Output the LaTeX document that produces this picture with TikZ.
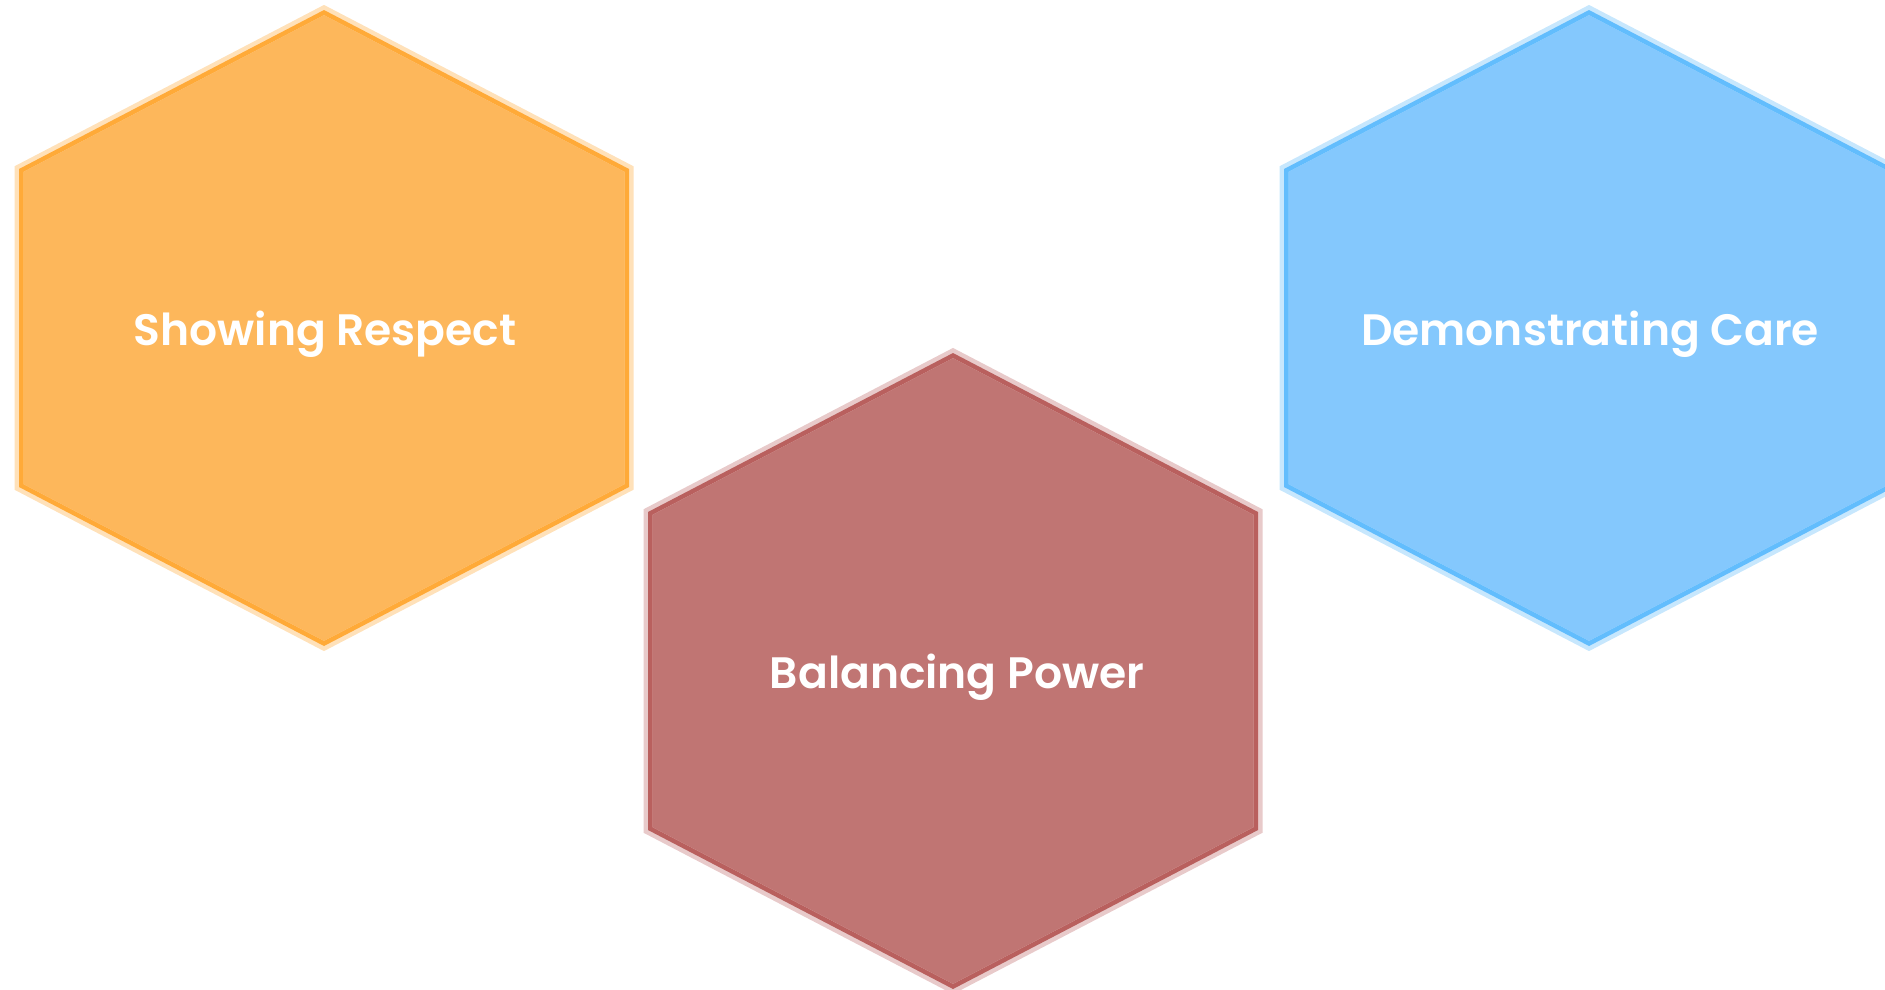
\documentclass[tikz,border=0pt]{standalone}
\usepackage{fontspec}
\setmainfont{Poppins}[UprightFont={* Medium}, BoldFont={* SemiBold}]
\definecolor{ofill}{HTML}{FDB75B}
\definecolor{olight}{HTML}{FFE1B9}
\definecolor{odark}{HTML}{FFAA38}
\definecolor{rfill}{HTML}{C07573}
\definecolor{rlight}{HTML}{E8CACA}
\definecolor{rdark}{HTML}{B9605E}
\definecolor{bfill}{HTML}{84C8FD}
\definecolor{blight}{HTML}{C7E7FD}
\definecolor{bdark}{HTML}{62BDFD}
\def\hexshape{(0,-318) -- (305,-159) -- (305,159) -- (0,318) -- (-305,159) -- (-305,-159) -- cycle}
\newcommand\myhex[5]{%
  \begin{scope}[shift={(#1,#2)}]
    \fill[#3] \hexshape;
    \draw[#4, line width=9pt] \hexshape;
    \begin{scope}
      \clip \hexshape;
      \draw[#5, line width=9pt] \hexshape;
    \end{scope}
  \end{scope}}
\begin{document}
\begin{tikzpicture}[x=1pt,y=-1pt,
  label/.style={text=white, font=\fontsize{44}{50}\selectfont\bfseries, anchor=base, inner sep=0pt}]
\useasboundingbox (0,0) rectangle (1885,989);
\clip (0,0) rectangle (1885,989);
\myhex{324}{328}{ofill}{olight}{odark}
\myhex{953}{671}{rfill}{rlight}{rdark}
\myhex{1589}{328}{bfill}{blight}{bdark}
\node[label] (respect) at (325,345) {Showing Respect};
\node[label] (power) at (957,688) {Balancing Power};
\node[label] (care) at (1590,345) {Demonstrating Care};
\end{tikzpicture}
\end{document}
